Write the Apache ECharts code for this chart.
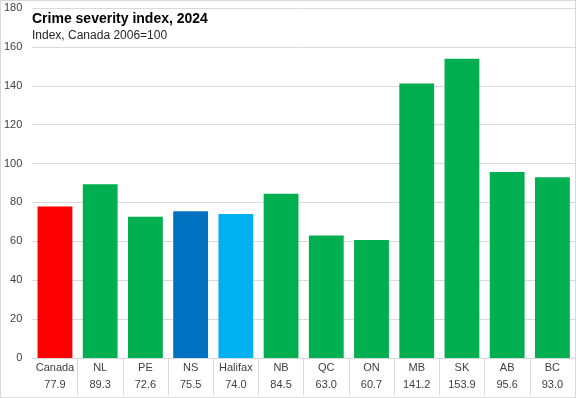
<!DOCTYPE html>
<html>
<head>
<meta charset="utf-8">
<script src="https://cdn.jsdelivr.net/npm/echarts@6/dist/echarts.min.js"></script>
<style>
    html, body { margin: 0; padding: 0; background: #fff; }
    #box { width: 576px; height: 398px; box-sizing: border-box; border: 1px solid #d9d9d9; }
    #chart { width: 574px; height: 396px; }
</style>
</head>
<body>
<div id="box"><div id="chart"></div></div>
<script>
    // data
    var categories = ['Canada', 'NL', 'PE', 'NS', 'Halifax', 'NB', 'QC', 'ON', 'MB', 'SK', 'AB', 'BC'];
    var values = [77.9, 89.3, 72.6, 75.5, 74.0, 84.5, 63.0, 60.7, 141.2, 153.9, 95.6, 93.0];
    var yTicks = [0, 20, 40, 60, 80, 100, 120, 140, 160, 180];

    var FONT = "'Liberation Sans', Arial, sans-serif";
    var colourFor = {
        'Canada': '#ff0000',
        'NS': '#0070c0',
        'Halifax': '#00b0f0'
    };

    var chart = echarts.init(document.getElementById('chart'));
    var option = {
        animation: false,
        textStyle: { fontFamily: FONT },
        title: {
            text: 'Crime severity index, 2024',
            subtext: 'Index, Canada 2006=100',
            left: 31,
            top: 11,
            padding: 0,
            itemGap: 4,
            textStyle: { fontFamily: FONT, fontSize: 14, fontWeight: 'bold', color: '#000' },
            subtextStyle: { fontFamily: FONT, fontSize: 12, color: '#262626' }
        },
        grid: { left: 30, right: -1, top: 7, bottom: 39 },
        xAxis: {
            type: 'category',
            data: categories,
            axisLine: { lineStyle: { color: '#d9d9d9' } },
            axisTick: {
                show: true,
                length: 37,
                interval: function (i) { return i !== 0; },
                lineStyle: { color: '#d9d9d9' }
            },
            axisLabel: {
                margin: 1,
                interval: 0,
                lineHeight: 17,
                fontSize: 11,
                color: '#404040',
                formatter: function (name) {
                    var v = values[categories.indexOf(name)];
                    return name + '\n' + v.toFixed(1);
                }
            }
        },
        yAxis: {
            type: 'value',
            min: yTicks[0],
            max: yTicks[yTicks.length - 1],
            interval: 20,
            axisLine: { show: false },
            axisTick: { show: false },
            splitLine: { lineStyle: { color: '#d9d9d9' } },
            axisLabel: { fontSize: 11, color: '#404040', margin: 10 }
        },
        series: [{
            type: 'bar',
            barCategoryGap: '23%',
            data: values.map(function (v, i) {
                return {
                    value: v,
                    itemStyle: { color: colourFor[categories[i]] || '#00b050' }
                };
            })
        }]
    };
    chart.setOption(option);
</script>
</body>
</html>
